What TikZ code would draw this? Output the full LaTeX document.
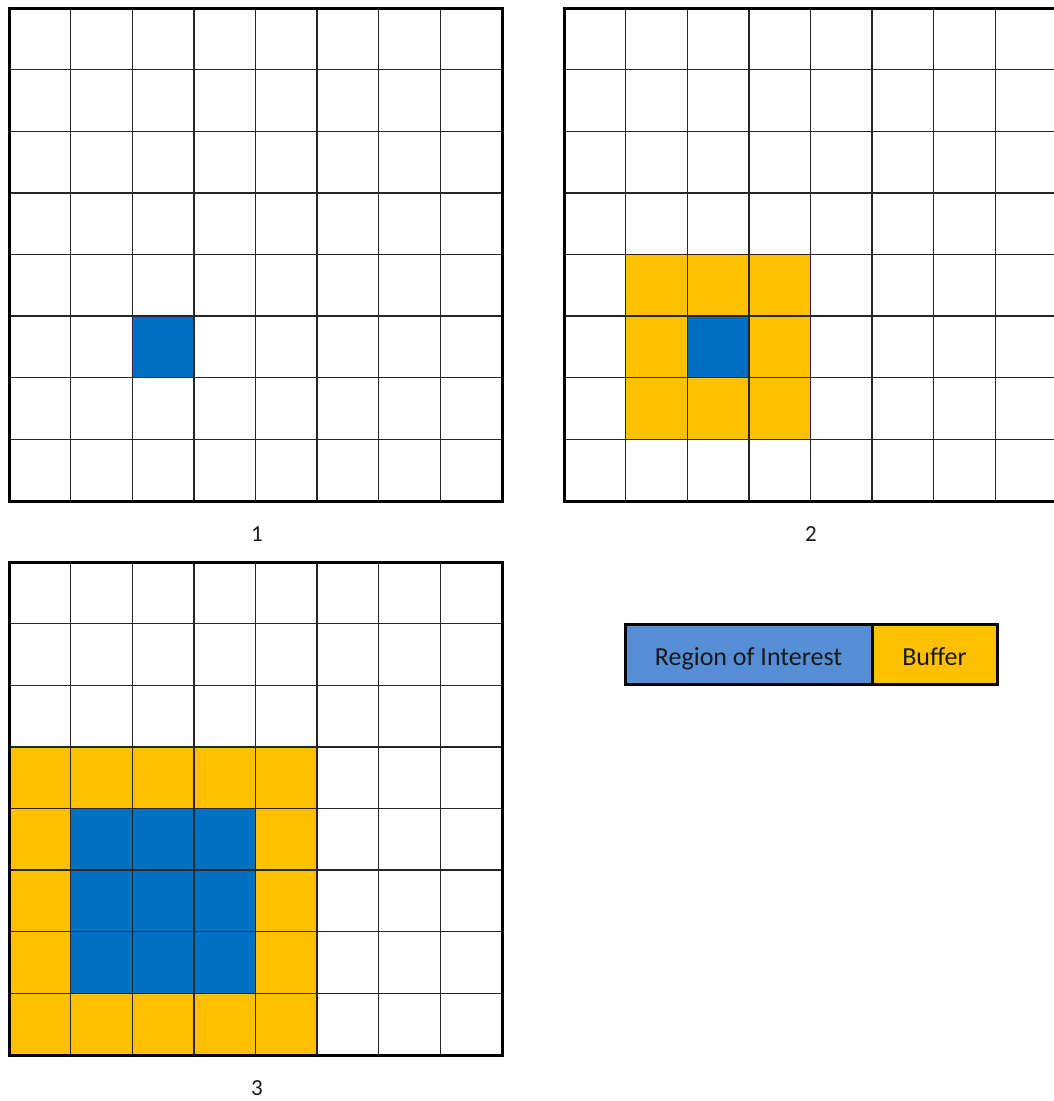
\documentclass[tikz,border=0pt]{standalone}
\usepackage{fontspec}
\setmainfont{Carlito}
\definecolor{roi}{HTML}{0070C0}
\definecolor{buf}{HTML}{FFC000}
\definecolor{legroi}{HTML}{558ED5}
\begin{document}
\begin{tikzpicture}[x=1pt,y=-1pt,
  thin grid/.style={line width=1.4pt,draw=black!85},
  gridframe/.style={line width=3pt,draw=black},
  legbox/.style={draw=black,line width=3pt,minimum height=60pt,inner sep=0pt,text height=24pt,text depth=3pt,font=\fontsize{26}{30}\selectfont,text=black!90},
  caplabel/.style={font=\fontsize{23}{27}\selectfont,text=black!90}]
\useasboundingbox (0,0) rectangle (1053,1101);
\def\cs{61.625}
% grid 1
\begin{scope}[shift={(9,8)}]
  \fill[roi] (2*\cs,5*\cs) rectangle (3*\cs,6*\cs);
  \foreach \i in {1,...,7} {
    \draw[thin grid] (\i*\cs,0) -- (\i*\cs,8*\cs);
    \draw[thin grid] (0,\i*\cs) -- (8*\cs,\i*\cs);
  }
  \draw[gridframe] (0,0) rectangle (8*\cs,8*\cs);
\end{scope}
% grid 2
\begin{scope}[shift={(564,8)}]
  \fill[buf] (1*\cs,4*\cs) rectangle (4*\cs,7*\cs);
  \fill[roi] (2*\cs,5*\cs) rectangle (3*\cs,6*\cs);
  \foreach \i in {1,...,7} {
    \draw[thin grid] (\i*\cs,0) -- (\i*\cs,8*\cs);
    \draw[thin grid] (0,\i*\cs) -- (8*\cs,\i*\cs);
  }
  \draw[gridframe] (0,0) rectangle (8*\cs,8*\cs);
\end{scope}
% grid 3
\begin{scope}[shift={(9,562)}]
  \fill[buf] (0,3*\cs) rectangle (5*\cs,8*\cs);
  \fill[roi] (1*\cs,4*\cs) rectangle (4*\cs,7*\cs);
  \foreach \i in {1,...,7} {
    \draw[thin grid] (\i*\cs,0) -- (\i*\cs,8*\cs);
    \draw[thin grid] (0,\i*\cs) -- (8*\cs,\i*\cs);
  }
  \draw[gridframe] (0,0) rectangle (8*\cs,8*\cs);
\end{scope}
% captions
\node[caplabel] (c1) at (257,534) {1};
\node[caplabel] (c2) at (811,534) {2};
\node[caplabel] (c3) at (257,1088) {3};
% legend
\node[legbox,fill=legroi,minimum width=247pt] (lroi) at (748.5,654.5) {Region of Interest};
\node[legbox,fill=buf,minimum width=125pt] (lbuf) at (934.5,654.5) {Buffer};
\end{tikzpicture}
\end{document}
